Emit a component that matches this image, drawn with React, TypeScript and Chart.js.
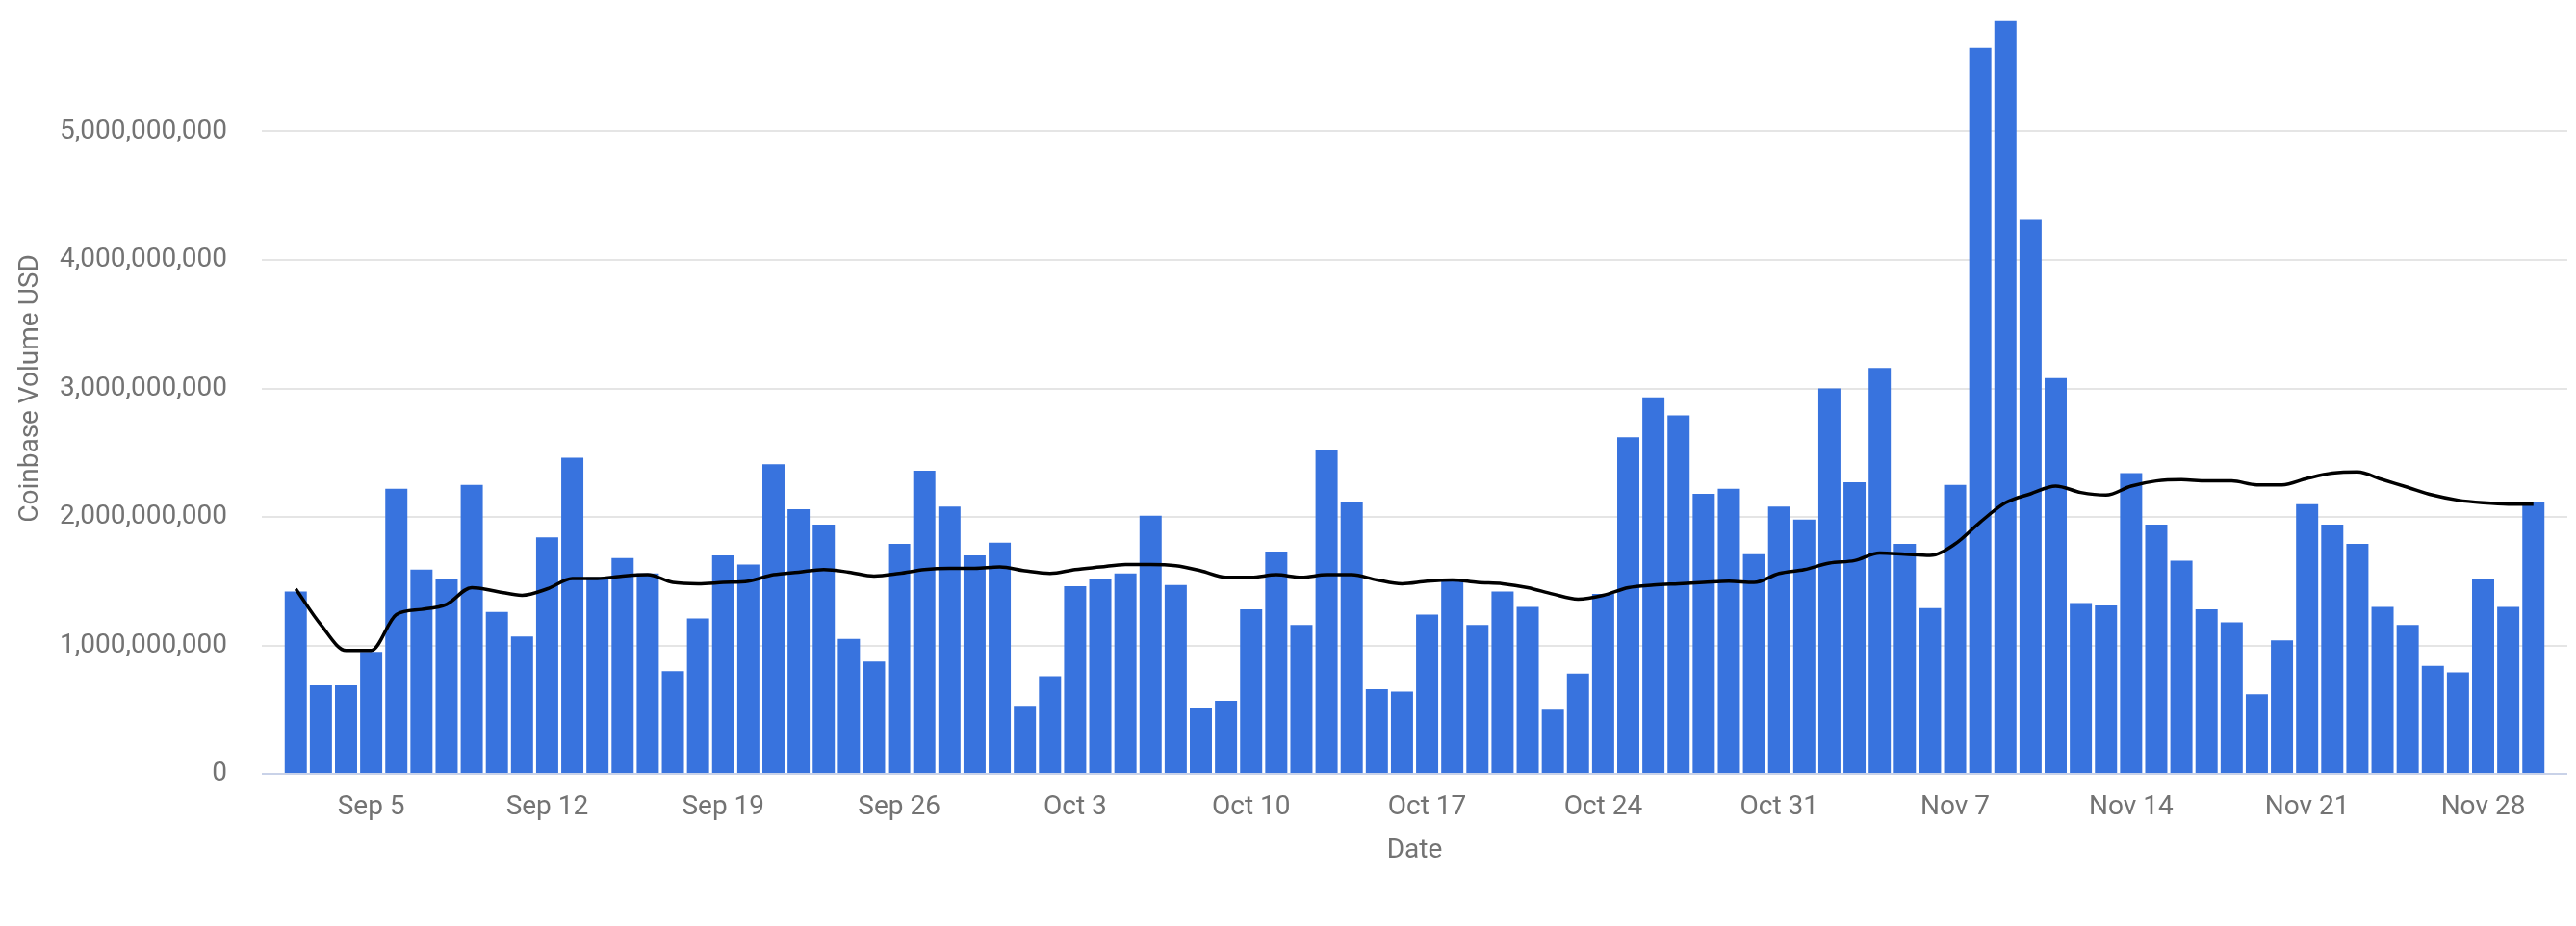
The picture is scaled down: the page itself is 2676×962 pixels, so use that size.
import React, { useEffect, useRef } from 'react';
import { Chart, registerables } from 'chart.js';

Chart.register(...registerables);

const dates = [
  'Sep 2', 'Sep 3', 'Sep 4', 'Sep 5', 'Sep 6', 'Sep 7', 'Sep 8', 'Sep 9', 'Sep 10', 'Sep 11',
  'Sep 12', 'Sep 13', 'Sep 14', 'Sep 15', 'Sep 16', 'Sep 17', 'Sep 18', 'Sep 19', 'Sep 20', 'Sep 21',
  'Sep 22', 'Sep 23', 'Sep 24', 'Sep 25', 'Sep 26', 'Sep 27', 'Sep 28', 'Sep 29', 'Sep 30',
  'Oct 1', 'Oct 2', 'Oct 3', 'Oct 4', 'Oct 5', 'Oct 6', 'Oct 7', 'Oct 8', 'Oct 9', 'Oct 10',
  'Oct 11', 'Oct 12', 'Oct 13', 'Oct 14', 'Oct 15', 'Oct 16', 'Oct 17', 'Oct 18', 'Oct 19', 'Oct 20',
  'Oct 21', 'Oct 22', 'Oct 23', 'Oct 24', 'Oct 25', 'Oct 26', 'Oct 27', 'Oct 28', 'Oct 29', 'Oct 30', 'Oct 31',
  'Nov 1', 'Nov 2', 'Nov 3', 'Nov 4', 'Nov 5', 'Nov 6', 'Nov 7', 'Nov 8', 'Nov 9', 'Nov 10',
  'Nov 11', 'Nov 12', 'Nov 13', 'Nov 14', 'Nov 15', 'Nov 16', 'Nov 17', 'Nov 18', 'Nov 19', 'Nov 20',
  'Nov 21', 'Nov 22', 'Nov 23', 'Nov 24', 'Nov 25', 'Nov 26', 'Nov 27', 'Nov 28', 'Nov 29', 'Nov 30',
];

// Daily Coinbase volume, billions of USD
const volumeBillions = [
  1.42, 0.69, 0.69, 0.95, 2.22, 1.59, 1.52, 2.25, 1.26, 1.07,
  1.84, 2.46, 1.53, 1.68, 1.56, 0.80, 1.21, 1.70, 1.63, 2.41,
  2.06, 1.94, 1.05, 0.875, 1.79, 2.36, 2.08, 1.70, 1.80,
  0.53, 0.76, 1.46, 1.52, 1.56, 2.01, 1.47, 0.51, 0.57, 1.28,
  1.73, 1.16, 2.52, 2.12, 0.66, 0.64, 1.24, 1.50, 1.16, 1.42,
  1.30, 0.50, 0.78, 1.40, 2.62, 2.93, 2.79, 2.18, 2.22, 1.71, 2.08,
  1.98, 3.00, 2.27, 3.16, 1.79, 1.29, 2.25, 5.65, 5.86, 4.31,
  3.08, 1.33, 1.31, 2.34, 1.94, 1.66, 1.28, 1.18, 0.62, 1.04,
  2.10, 1.94, 1.79, 1.30, 1.16, 0.84, 0.79, 1.52, 1.30, 2.12,
];

// Trend line, billions of USD
const trendBillions = [
  1.44, 1.16, 0.96, 0.96, 1.24, 1.28, 1.32, 1.45, 1.42, 1.39,
  1.44, 1.52, 1.52, 1.54, 1.55, 1.49, 1.48, 1.49, 1.50, 1.55,
  1.57, 1.59, 1.57, 1.54, 1.56, 1.59, 1.60, 1.60, 1.61,
  1.58, 1.56, 1.59, 1.61, 1.63, 1.63, 1.62, 1.58, 1.53, 1.53,
  1.55, 1.53, 1.55, 1.55, 1.51, 1.48, 1.50, 1.51, 1.49, 1.48,
  1.45, 1.40, 1.36, 1.39, 1.45, 1.47, 1.48, 1.49, 1.50, 1.49, 1.56,
  1.59, 1.64, 1.66, 1.72, 1.71, 1.70, 1.79, 1.96, 2.11, 2.18,
  2.24, 2.19, 2.17, 2.24, 2.28, 2.29, 2.28, 2.28, 2.25, 2.25,
  2.30, 2.34, 2.35, 2.29, 2.23, 2.17, 2.13, 2.11, 2.10, 2.10,
];

const xTickLabels = ['Sep 5', 'Sep 12', 'Sep 19', 'Sep 26', 'Oct 3', 'Oct 10', 'Oct 17', 'Oct 24', 'Oct 31', 'Nov 7', 'Nov 14', 'Nov 21', 'Nov 28'];
const yTickValues = [0, 1e9, 2e9, 3e9, 4e9, 5e9];

const FONT = 'Roboto, "Noto Sans", sans-serif';
const TEXT_COLOR = '#737373';

const zeroPadding = (s: any) => {
  s.paddingLeft = 0;
  s.paddingRight = 0;
  s.paddingTop = 0;
  s.paddingBottom = 0;
};

export default function App() {
  const ref = useRef<HTMLCanvasElement>(null);

  useEffect(() => {
    if (!ref.current) return;
    const chart = new Chart(ref.current, {
      data: {
        datasets: [
          {
            type: 'line',
            label: 'Trend',
            data: trendBillions.map((v, i) => ({ x: i, y: v * 1e9 })),
            borderColor: '#000000',
            borderWidth: 3.5,
            pointRadius: 0,
            cubicInterpolationMode: 'monotone',
            fill: false,
            order: 0,
          },
          {
            type: 'bar',
            label: 'Coinbase Volume USD',
            data: volumeBillions.map((v, i) => ({ x: i, y: v * 1e9 })),
            backgroundColor: '#3873de',
            borderWidth: 0,
            barPercentage: 0.88,
            categoryPercentage: 1,
            order: 1,
          },
        ],
      } as any,
      options: {
        responsive: false,
        animation: false,
        layout: { padding: { top: 3, right: 9, bottom: 0, left: 0 } },
        plugins: { legend: { display: false }, tooltip: { enabled: false } },
        scales: {
          x: {
            type: 'linear',
            min: -1.35,
            max: 90.35,
            offset: false,
            grid: { display: false, drawTicks: false },
            border: { display: false },
            afterBuildTicks: (s: any) => {
              s.ticks = xTickLabels.map((l) => ({ value: dates.indexOf(l) }));
            },
            afterFit: (s: any) => {
              s.height = 158;
              zeroPadding(s);
            },
            ticks: {
              autoSkip: false,
              maxRotation: 0,
              padding: 18,
              color: TEXT_COLOR,
              font: { family: FONT, size: 28 },
              callback: (v: any) => dates[Math.round(Number(v))],
            },
            title: {
              display: true,
              text: 'Date',
              color: TEXT_COLOR,
              font: { family: FONT, size: 28 },
              padding: { top: 0, bottom: 61 },
            },
          },
          y: {
            type: 'linear',
            min: 0,
            max: 6e9,
            afterBuildTicks: (s: any) => {
              s.ticks = yTickValues.map((v) => ({ value: v }));
            },
            afterFit: (s: any) => {
              s.width = 272;
              zeroPadding(s);
            },
            grid: {
              drawTicks: false,
              lineWidth: 2,
              color: (ctx: any) => (ctx.tick && ctx.tick.value === 0 ? '#c9d2e8' : '#e5e5e5'),
            },
            border: { display: false },
            ticks: {
              padding: 36,
              color: TEXT_COLOR,
              font: { family: FONT, size: 28 },
              callback: (v: any) => Number(v).toLocaleString('en-US'),
            },
            title: {
              display: true,
              text: 'Coinbase Volume USD',
              color: TEXT_COLOR,
              font: { family: FONT, size: 28 },
              padding: { top: 15, bottom: 0 },
            },
          },
        },
      } as any,
    });
    return () => chart.destroy();
  }, []);

  return (
    <div style={{ position: 'absolute', left: 0, top: 0, width: 2676, height: 962, background: '#ffffff' }}>
      <canvas ref={ref} width={2676} height={962} style={{ width: 2676, height: 962 }} />
    </div>
  );
}
